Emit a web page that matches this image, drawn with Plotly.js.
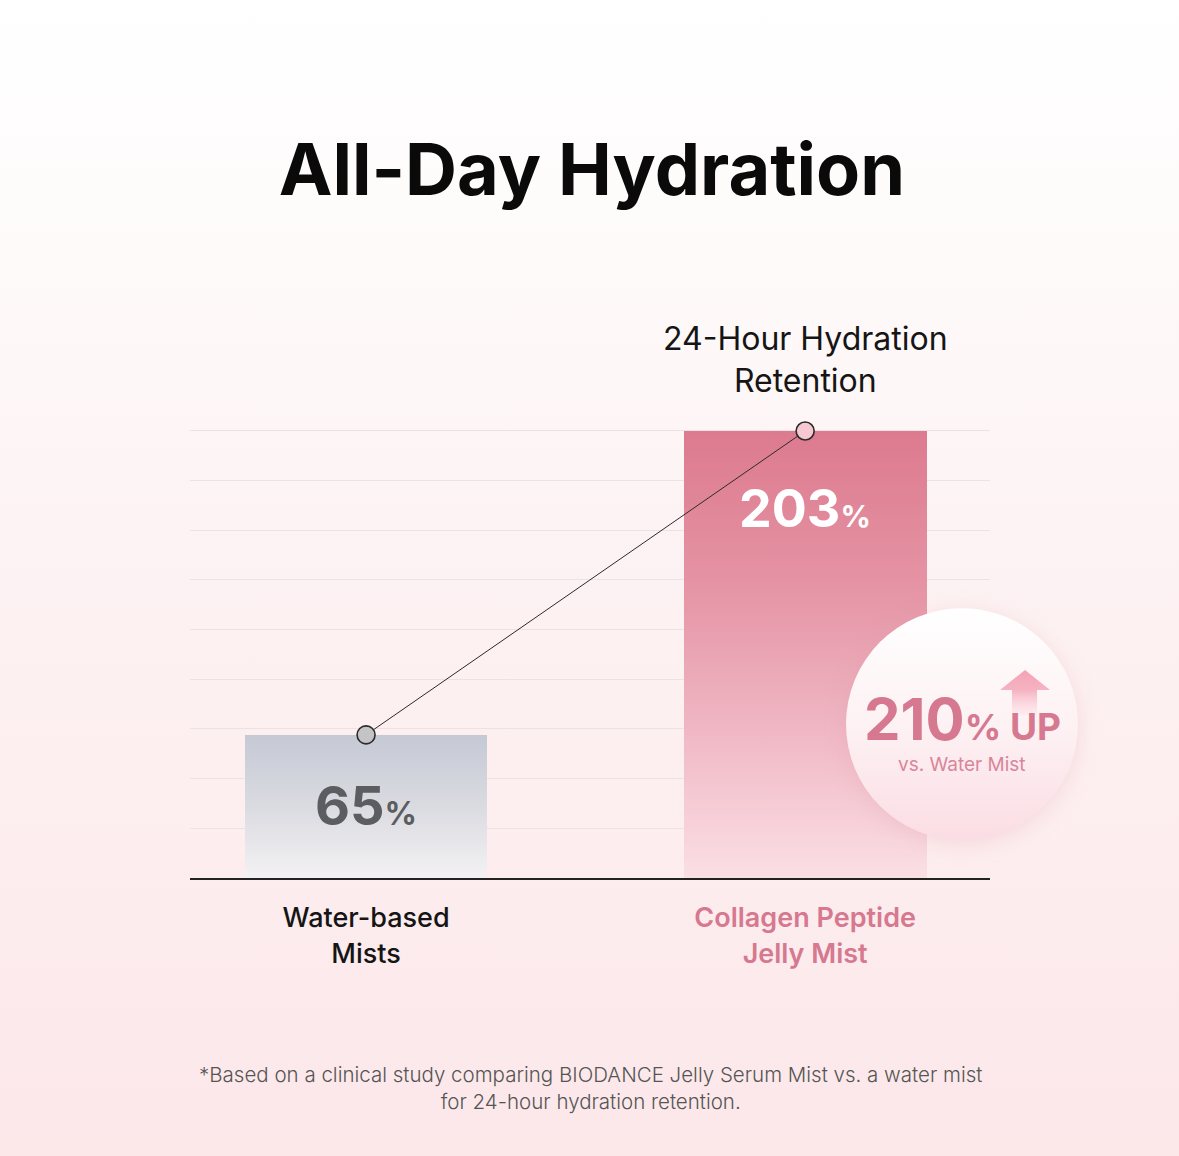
<!DOCTYPE html>
<html>
<head>
<meta charset="utf-8">
<script src="https://cdn.plot.ly/plotly-3.0.1.min.js"></script>
<style>
  html, body { margin: 0; padding: 0; }
  body { width: 1179px; height: 1156px; overflow: hidden;
    background: linear-gradient(to bottom, #ffffff 0%, #fefafa 22%, #fdf3f4 45%, #fdeeef 70%, #fce7e9 100%); }
  #chart { width: 1179px; height: 1156px; }
</style>
</head>
<body>
<div id="chart"></div>
<script>
// ---- data ----
const categories = ["Water-based Mists", "Collagen Peptide Jelly Mist"];
const tickLabels = ["Water-based<br>Mists", "Collagen Peptide<br>Jelly Mist"];
const values = [65, 203];
const increasePct = 210;
const chartTitle = "All-Day Hydration";
const seriesLabel = "24-Hour Hydration<br>Retention";
const footnote = "*Based on a clinical study comparing BIODANCE Jelly Serum Mist vs. a water mist<br>for 24-hour hydration retention.";

const FONT = "Inter, 'Noto Sans', 'DejaVu Sans', sans-serif";
const PINK = "#d6788f";

const data = [
  {
    type: "bar",
    x: categories,
    y: values,
    width: 0.553,
    marker: { color: ["#dcdde3", "#eaa0b0"], line: { width: 0 } },
    hoverinfo: "none",
    showlegend: false
  },
  {
    type: "scatter",
    mode: "lines+markers",
    x: categories,
    y: values,
    cliponaxis: false,
    line: { color: "#2b2b2b", width: 1 },
    marker: { size: 18, color: ["#c4c4c6", "#f7c8d1"], line: { color: "#2b2b2b", width: 1.6 } },
    hoverinfo: "none",
    showlegend: false
  }
];

const C = { xanchor: "center", yanchor: "middle", showarrow: false };
const annotations = [
  // value labels inside bars
  Object.assign({
    xref: "x", yref: "y", x: categories[0], y: 33,
    text: `<b>${values[0]}</b><span style="font-size:32px"><b>%</b></span>`,
    font: { family: FONT, size: 54, color: "#5c5d61" }
  }, C),
  Object.assign({
    xref: "x", yref: "y", x: categories[1], y: 168,
    text: `<b>${values[1]}</b><span style="font-size:30px"><b>%</b></span>`,
    font: { family: FONT, size: 52, color: "#ffffff" }
  }, C),
  // series label
  Object.assign({
    xref: "x", yref: "paper", x: categories[1], y: 1.1537,
    text: seriesLabel,
    font: { family: FONT, size: 32, color: "#151515" }
  }, C),
  // increase callout
  Object.assign({
    xref: "paper", yref: "paper", x: 0.965, y: 0.354,
    text: `<b>${increasePct}</b><span style="font-size:36px"><b>%</b></span><span style="font-size:37px"><b> UP</b></span>`,
    font: { family: FONT, size: 58, color: PINK }
  }, C),
  Object.assign({
    xref: "paper", yref: "paper", x: 0.965, y: 0.252,
    text: "vs. Water Mist",
    font: { family: FONT, size: 19, color: "#d9869a" }
  }, C),
  // footnote
  Object.assign({
    xref: "paper", yref: "paper", x: 0.5, y: -0.468,
    text: footnote,
    font: { family: FONT, size: 20.5, color: "#555555", weight: 300 }
  }, C)
];

const shapes = [
  // highlight circle
  {
    type: "circle", xref: "paper", yref: "paper",
    x0: 0.82, x1: 1.11, y0: 0.0846, y1: 0.601,
    fillcolor: "#fdeef1", line: { width: 0 }, layer: "above"
  },
  // up arrow
  {
    type: "path", xref: "paper", yref: "paper",
    path: "M 1.0125 0.4187 L 1.04375 0.4633 L 1.075 0.4187 L 1.05875 0.4187 L 1.05875 0.363 L 1.0275 0.363 L 1.0275 0.4187 Z",
    fillcolor: "#f4a8ba", line: { width: 0 }, layer: "above"
  }
];

const layout = {
  width: 1179, height: 1156,
  paper_bgcolor: "rgba(0,0,0,0)",
  plot_bgcolor: "rgba(0,0,0,0)",
  margin: { l: 190, r: 189, t: 429, b: 278 },
  title: {
    text: `<b>${chartTitle}</b>`, x: 0.502, xanchor: "center", y: 0.853, yanchor: "middle",
    font: { family: FONT, size: 72, color: "#0a0a0a" }
  },
  xaxis: {
    type: "category",
    range: [-0.401, 1.421],
    tickmode: "array",
    tickvals: categories,
    ticktext: [tickLabels[0], `<span style="color:${PINK};font-weight:600">${tickLabels[1]}</span>`],
    tickfont: { family: FONT, size: 27, color: "#151515", weight: 500 },
    ticks: "outside", ticklen: 15, tickcolor: "rgba(0,0,0,0)",
    showline: true, linecolor: "#222222", linewidth: 2,
    showgrid: false, zeroline: false, fixedrange: true
  },
  yaxis: {
    range: [0, 203.9],
    tick0: 0, dtick: 203 / 9,
    showticklabels: false, ticks: "",
    showgrid: true, gridcolor: "#ebe2e3", gridwidth: 1,
    zeroline: false, showline: false, fixedrange: true
  },
  bargap: 0,
  annotations: annotations,
  shapes: shapes
};

Plotly.newPlot("chart", data, layout, { staticPlot: true, displayModeBar: false }).then(gd => {
  const svg = gd.querySelector("svg.main-svg");
  let defs = svg.querySelector("defs");
  const NS = "http://www.w3.org/2000/svg";
  function grad(id, stops) {
    const g = document.createElementNS(NS, "linearGradient");
    g.setAttribute("id", id);
    g.setAttribute("x1", "0"); g.setAttribute("y1", "0"); g.setAttribute("x2", "0"); g.setAttribute("y2", "1");
    stops.forEach(([o, c, op]) => {
      const s = document.createElementNS(NS, "stop");
      s.setAttribute("offset", o); s.setAttribute("stop-color", c);
      if (op !== undefined) s.setAttribute("stop-opacity", op);
      g.appendChild(s);
    });
    defs.appendChild(g);
  }
  grad("gBar0", [[0, "#c5c9d4"], [0.5, "#dadbe1"], [1, "#f3f1f3"]]);
  grad("gBar1", [[0, "#dd7a8f"], [0.35, "#e594a5"], [0.65, "#efb5c2"], [1, "#fbdfe5"]]);
  grad("gCircle", [[0, "#ffffff"], [0.55, "#fdf0f2"], [1, "#fbdde4"]]);
  grad("gArrow", [[0, "#f4a3b6"], [0.45, "#f6b3c2"], [1, "#fde9ee", 0.6]]);

  const bars = gd.querySelectorAll(".barlayer .point path");
  if (bars[0]) bars[0].style.fill = "url(#gBar0)";
  if (bars[1]) bars[1].style.fill = "url(#gBar1)";
  const shp = gd.querySelectorAll(".shapelayer path");
  shp.forEach(p => {
    const idx = p.getAttribute("data-index");
    if (idx === "0") { p.style.fill = "url(#gCircle)"; p.style.filter = "drop-shadow(0px 4px 10px rgba(220,150,165,0.25))"; }
    if (idx === "1") p.style.fill = "url(#gArrow)";
  });
});
</script>
</body>
</html>
